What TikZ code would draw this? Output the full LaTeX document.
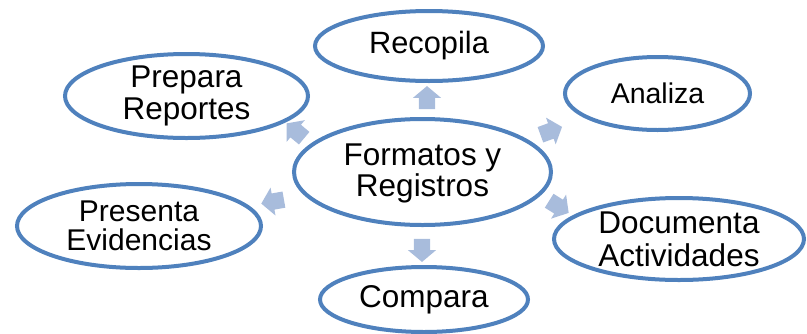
\documentclass[tikz,border=0pt]{standalone}
\usepackage{fontspec}
\setmainfont{Liberation Sans}
\usetikzlibrary{shapes.geometric,shapes.arrows}
\definecolor{ringblue}{RGB}{79,129,189}
\definecolor{arrowblue}{RGB}{168,188,220}
\begin{document}
\begin{tikzpicture}[x=1pt,y=-1pt,
  ring/.style={ellipse, draw=ringblue, line width=4pt, fill=white, inner sep=0pt},
  blockarrow/.style={single arrow, fill=arrowblue, draw=none, inner xsep=0pt, inner ysep=8pt,
    minimum height=23pt, single arrow head extend=6pt,
    single arrow tip angle=100},
  lbl/.style={align=center, inner sep=0pt, text=black}]
\useasboundingbox (0,0) rectangle (807,333);
% ellipses
\node[ring, minimum width=257pt, minimum height=106pt] (center) at (422.5,172) {};
\node[ring, minimum width=228pt, minimum height=70pt] (recopila) at (429,46) {};
\node[ring, minimum width=185pt, minimum height=73pt] (analiza) at (657.5,93.5) {};
\node[ring, minimum width=243pt, minimum height=84pt] (prepara) at (186.5,96) {};
\node[ring, minimum width=244pt, minimum height=84pt] (presenta) at (139,226) {};
\node[ring, minimum width=250pt, minimum height=82pt] (documenta) at (679,239) {};
\node[ring, minimum width=208pt, minimum height=65pt] (compara) at (424,299.5) {};
% labels
\node[lbl, font=\fontsize{31.5}{31}\selectfont] (tcenter) at ([yshift=-1pt]center.center) {Formatos y\\Registros};
\node[lbl, font=\fontsize{30.8}{31}\selectfont] (trecopila) at (recopila.center) {Recopila};
\node[lbl, font=\fontsize{28.5}{30}\selectfont] (tanaliza) at (analiza.center) {Analiza};
\node[lbl, font=\fontsize{31.5}{32}\selectfont] (tprepara) at (prepara.center) {Prepara\\Reportes};
\node[lbl, font=\fontsize{30}{29}\selectfont] (tpresenta) at (presenta.center) {Presenta\\Evidencias};
\node[lbl, font=\fontsize{31.5}{33}\selectfont] (tdocumenta) at (documenta.center) {Documenta\\Actividades};
\node[lbl, font=\fontsize{31.5}{32}\selectfont] (tcompara) at (compara.center) {Compara};
% block arrows
\node[blockarrow, rotate=90] (arec) at (427,101) {};
\node[blockarrow, rotate=-90] (acom) at (422,247) {};
\node[blockarrow, rotate=20] (aana) at (548,132) {};
\node[blockarrow, rotate=-32] (adoc) at (556,205) {};
\node[blockarrow, rotate=140] (apre) at (298,133) {};
\node[blockarrow, rotate=190] (apev) at (276,201) {};
\end{tikzpicture}
\end{document}
